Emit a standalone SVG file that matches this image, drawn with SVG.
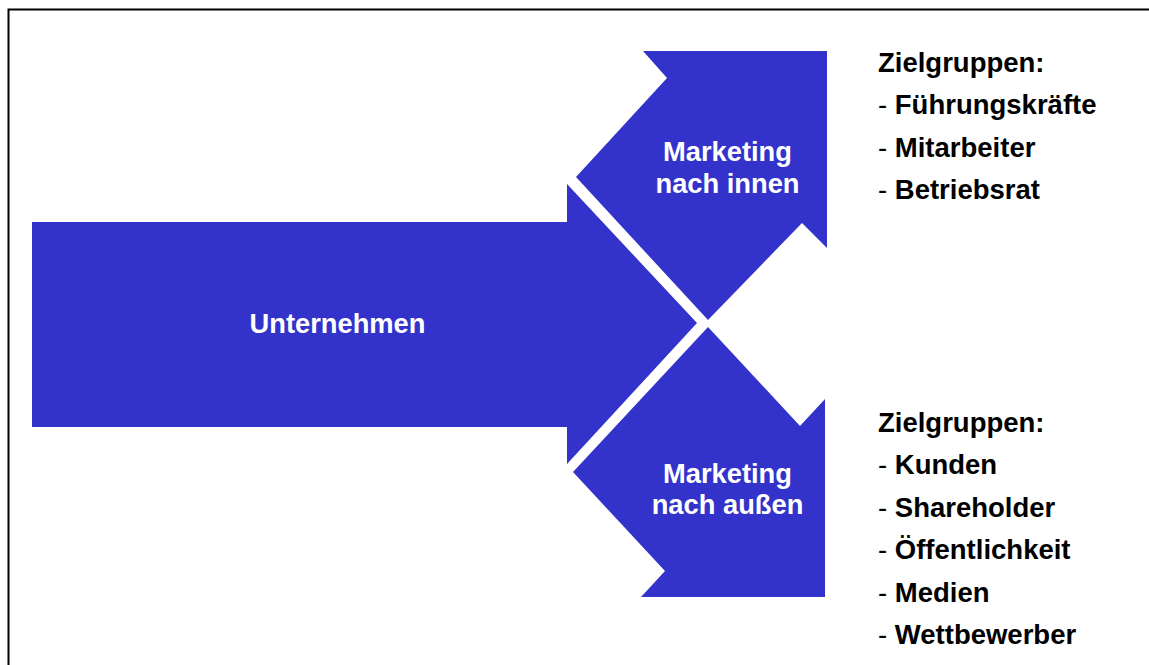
<svg xmlns="http://www.w3.org/2000/svg" width="1149" height="665" viewBox="0 0 1149 665">
<style>
.shape{fill:#3333CC;}
.wt{fill:#FFFFFF;font-family:"Liberation Sans",Arial,sans-serif;font-weight:bold;font-size:27.3px;text-anchor:middle;}
.bt{fill:#000000;font-family:"Liberation Sans",Arial,sans-serif;font-weight:bold;font-size:27.5px;}
.dash{font-weight:normal;}
</style>
<rect x="0" y="0" width="1149" height="665" fill="#FFFFFF"/>
<path d="M8.5 665 V9.5 H1149" fill="none" stroke="#000000" stroke-width="2"/>
<g id="unternehmen">
<polygon class="shape" points="32,222 567,222 567,184 697,323 567,464 567,427 32,427"/>
<text class="wt" x="337.5" y="333">Unternehmen</text>
</g>
<g id="marketing-innen">
<polygon class="shape" points="643,51 827,51 827,248 802,223 708,320 576,177 667,78"/>
<text class="wt" x="727.5" y="161">Marketing</text>
<text class="wt" x="727.5" y="193">nach innen</text>
</g>
<g id="marketing-aussen">
<polygon class="shape" points="708,327 800,426 825,399 825,597 641,597 665,571 573,472"/>
<text class="wt" x="727.5" y="483">Marketing</text>
<text class="wt" x="727.5" y="514">nach außen</text>
</g>
<g id="zielgruppen-innen">
<text class="bt" x="878" y="72">Zielgruppen:</text>
<text class="bt" x="878" y="114"><tspan class="dash">- </tspan>Führungskräfte</text>
<text class="bt" x="878" y="157"><tspan class="dash">- </tspan>Mitarbeiter</text>
<text class="bt" x="878" y="199"><tspan class="dash">- </tspan>Betriebsrat</text>
</g>
<g id="zielgruppen-aussen">
<text class="bt" x="878" y="432">Zielgruppen:</text>
<text class="bt" x="878" y="474"><tspan class="dash">- </tspan>Kunden</text>
<text class="bt" x="878" y="517"><tspan class="dash">- </tspan>Shareholder</text>
<text class="bt" x="878" y="559"><tspan class="dash">- </tspan>Öffentlichkeit</text>
<text class="bt" x="878" y="602"><tspan class="dash">- </tspan>Medien</text>
<text class="bt" x="878" y="644"><tspan class="dash">- </tspan>Wettbewerber</text>
</g>
<g id="connectors"></g>
</svg>
